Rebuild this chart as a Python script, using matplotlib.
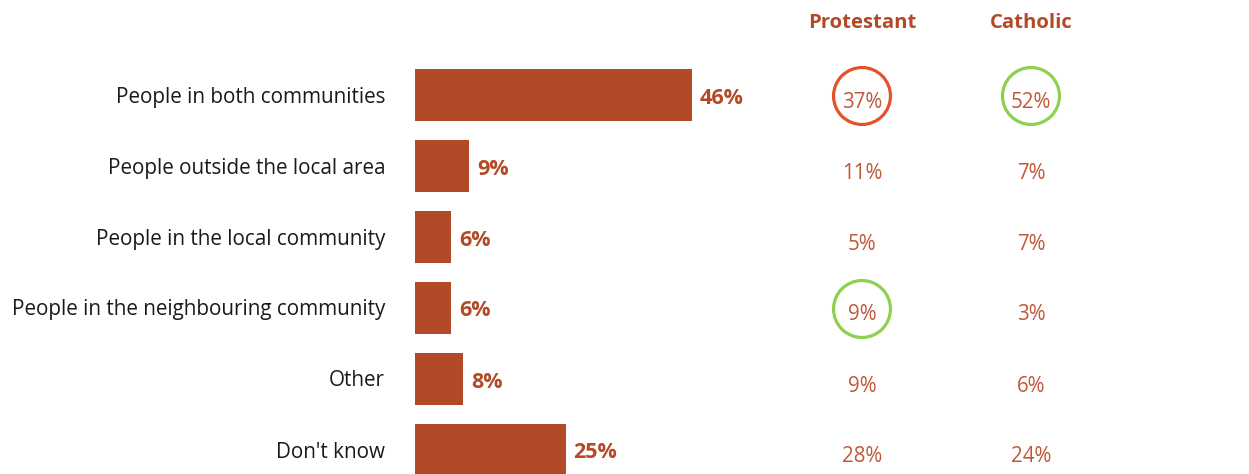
import matplotlib
matplotlib.use("Agg")
import matplotlib.pyplot as plt
from matplotlib.transforms import blended_transform_factory, offset_copy, IdentityTransform

categories = ["People in both communities", "People outside the local area",
              "People in the local community", "People in the neighbouring community",
              "Other", "Don't know"]
overall = [46, 9, 6, 6, 8, 25]
protestant = [37, 11, 5, 9, 9, 28]
catholic = [52, 7, 7, 3, 6, 24]
group_names = ["Protestant", "Catholic"]
# highlights: (row index, group index, colour)
highlights = [(0, 0, "#E8502A"), (0, 1, "#8ED150"), (3, 0, "#8ED150")]

W, H = 1249, 474
fig = plt.figure(figsize=(W / 100, H / 100), dpi=100)
fig.patch.set_facecolor("white")

font = "Open Sans"
bar_col = "#B34A27"
val_col = "#B34A27"
grp_col = "#C0583A"

# bar axes: starts at x=415px, 6.02 px per percent
x0 = 415
px_per = 6.02
ax = fig.add_axes([x0 / W, 0, 1 - x0 / W, 1])
ax.set_xlim(0, (W - x0) / px_per)
top_c, step = 95, 71
ax.set_ylim((H - top_c) / step, -top_c / step)
ax.axis("off")

ident = IdentityTransform()
bt = blended_transform_factory(ident, ax.transData)

ypos = list(range(len(categories)))
ax.barh(ypos, overall, height=52 / step, color=bar_col, edgecolor="none")

for y, v, c in zip(ypos, overall, categories):
    ax.text(v, y, f"{v}%", ha="left", va="center", fontsize=15.5,
            fontweight="bold", color=val_col, family=font,
            transform=offset_copy(ax.transData, fig=fig, x=8, y=-3, units="dots"))
    ax.text(x0 - 30, y, c, ha="right", va="center", fontsize=14.9,
            color="#1a1a1a", family=font,
            transform=offset_copy(bt, fig=fig, x=0, y=-2, units="dots"))

col_x = [862, 1031]
for gi, (name, vals) in enumerate(zip(group_names, [protestant, catholic])):
    fig.text(col_x[gi] / W, 1 - 23 / H, name, ha="center", va="center",
             fontsize=14.6, fontweight="bold", color=val_col, family=font)
    for y, v in zip(ypos, vals):
        ax.text(col_x[gi], y, f"{v}%", ha="center", va="center", fontsize=14.8,
                color=grp_col, family=font,
                transform=offset_copy(bt, fig=fig, x=0, y=-7, units="dots"))

for r, g, colr in highlights:
    ax.scatter([col_x[g]], [r], s=41 ** 2, facecolors="none", edgecolors=colr,
               linewidths=2.3, transform=offset_copy(bt, fig=fig, x=0, y=-1, units="dots"),
               clip_on=False, zorder=5)

fig.savefig("out.png", dpi=100, facecolor="white")
